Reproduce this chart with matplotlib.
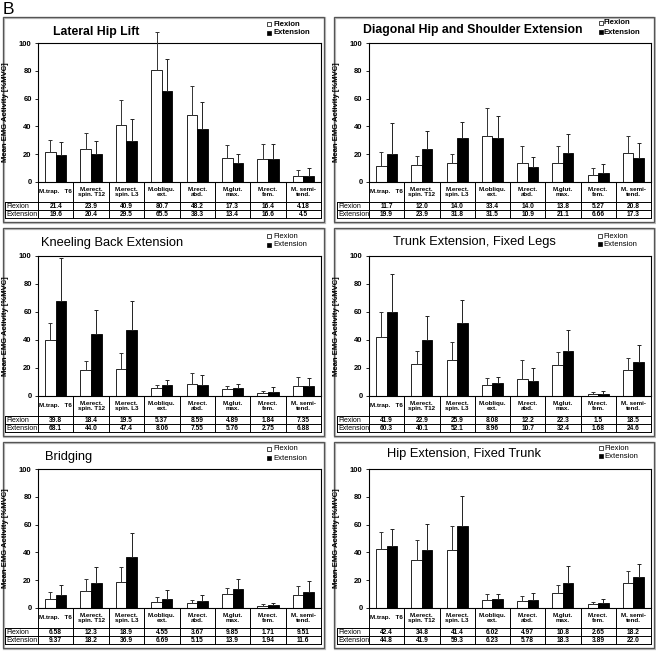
import matplotlib
matplotlib.use('Agg')
import matplotlib.pyplot as plt
from matplotlib.patches import Rectangle
import numpy as np

plt.rcParams['font.family'] = ['Liberation Sans', 'DejaVu Sans']

# ---------------- data ----------------
muscles = ["M.trap.   T6", "M.erect.\nspin. T12", "M.erect.\nspin. L3", "M.obliqu.\next.",
           "M.rect.\nabd.", "M.glut.\nmax.", "M.rect.\nfem.", "M. semi-\ntend."]
series = ["Flexion", "Extension"]
titles = ["Lateral Hip Lift", "Diagonal Hip and Shoulder Extension",
          "Kneeling Back Extension", "Trunk Extension, Fixed Legs",
          "Bridging", "Hip Extension, Fixed Trunk"]
y_label = "Mean EMG Activity [%MVC]"
y_ticks = [0, 20, 40, 60, 80, 100]

lateral_flex = [21.4, 23.9, 40.9, 80.7, 48.2, 17.3, 16.4, 4.18]
lateral_ext = [19.6, 20.4, 29.5, 65.5, 38.3, 13.4, 16.6, 4.5]
lateral_flex_sd = [8.6, 11.1, 18.1, 27.0, 20.8, 9.2, 10.6, 4.3]
lateral_ext_sd = [9.4, 9.1, 15.5, 23.0, 19.2, 6.6, 10.4, 5.5]

diagonal_flex = [11.7, 12.0, 14.0, 33.4, 14.0, 13.8, 5.27, 20.8]
diagonal_ext = [19.9, 23.9, 31.8, 31.5, 10.9, 21.1, 6.66, 17.3]
diagonal_flex_sd = [9.8, 7.0, 6.5, 19.6, 12.0, 12.2, 4.7, 12.2]
diagonal_ext_sd = [22.6, 13.1, 11.2, 16.0, 7.1, 13.4, 6.3, 10.7]

kneeling_flex = [39.8, 18.4, 19.5, 5.37, 8.59, 4.89, 1.84, 7.35]
kneeling_ext = [68.1, 44.0, 47.4, 8.06, 7.55, 5.76, 2.75, 6.88]
kneeling_flex_sd = [12.4, 6.7, 11.1, 2.5, 7.7, 2.5, 2.0, 6.3]
kneeling_ext_sd = [30.7, 17.5, 20.3, 3.1, 7.1, 3.1, 3.5, 5.8]

trunk_flex = [41.9, 22.9, 25.9, 8.08, 12.2, 22.3, 1.5, 18.5]
trunk_ext = [60.3, 40.1, 52.1, 8.96, 10.7, 32.4, 1.68, 24.6]
trunk_flex_sd = [18.4, 9.6, 12.9, 5.1, 13.2, 9.3, 1.4, 8.3]
trunk_ext_sd = [26.8, 17.3, 16.8, 4.9, 9.4, 14.5, 1.6, 11.8]

bridging_flex = [6.58, 12.3, 18.9, 4.55, 3.67, 9.85, 1.71, 9.51]
bridging_ext = [9.37, 18.2, 36.9, 6.69, 5.15, 13.9, 1.94, 11.6]
bridging_flex_sd = [4.7, 8.6, 10.6, 3.2, 2.1, 4.3, 1.4, 6.3]
bridging_ext_sd = [7.1, 11.1, 16.8, 6.5, 4.0, 6.7, 1.5, 8.1]

hip_flex = [42.4, 34.8, 41.4, 6.02, 4.97, 10.8, 2.65, 18.2]
hip_ext = [44.8, 41.9, 59.3, 6.23, 5.78, 18.3, 3.89, 22.0]
hip_flex_sd = [12.1, 13.9, 17.4, 3.9, 3.7, 5.6, 2.0, 8.3]
hip_ext_sd = [11.8, 18.6, 21.4, 3.7, 5.3, 12.1, 2.4, 10.0]

flex_all = [lateral_flex, diagonal_flex, kneeling_flex, trunk_flex, bridging_flex, hip_flex]
ext_all = [lateral_ext, diagonal_ext, kneeling_ext, trunk_ext, bridging_ext, hip_ext]
flex_sd_all = [lateral_flex_sd, diagonal_flex_sd, kneeling_flex_sd, trunk_flex_sd, bridging_flex_sd, hip_flex_sd]
ext_sd_all = [lateral_ext_sd, diagonal_ext_sd, kneeling_ext_sd, trunk_ext_sd, bridging_ext_sd, hip_ext_sd]

# ---------------- layout (pixels) ----------------
W, H = 656, 651
fig = plt.figure(figsize=(W / 100, H / 100), dpi=100)
fig.patch.set_facecolor('white')
over = fig.add_axes([0, 0, 1, 1], zorder=0)
over.set_xlim(0, W)
over.set_ylim(H, 0)
over.axis('off')

cols = [dict(fx0=3, fx1=324, lx0=5, ax0=38, ax1=321),
        dict(fx0=334, fx1=654, lx0=337, ax0=369, ax1=651)]
rows = [dict(ft=17, at=43, ab=182), dict(ft=228, at=256, ab=396), dict(ft=442, at=469, ab=608)]
title_pos = [(53, 32), (363, 30), (41, 243), (393, 242), (45, 457), (387, 454)]
title_bold = [True, True, False, False, False, False]
legend_pos = [(267, 273, 24, 33), (599, 603, 23, 32), (267, 273, 236, 245),
              (598, 603, 236, 244), (267, 273, 449, 458), (599, 604, 448, 456)]
CAT_H, ROW_H = 20, 8


def fmt(v):
    s = f'{v:.3g}'
    if '.' not in s:
        s += '.0'
    return s


over.text(3, 9, 'B', fontsize=12.5, va='center', ha='left')

for i in range(6):
    c = cols[i % 2]
    r = rows[i // 2]
    fb = r['ab'] + CAT_H + 2 * ROW_H + 4
    # panel frame (with shadow)
    over.add_patch(Rectangle((c['fx0'] + 1, r['ft'] + 1), c['fx1'] - c['fx0'], fb - r['ft'],
                             fill=False, edgecolor='#bdbdbd', lw=1.6))
    over.add_patch(Rectangle((c['fx0'], r['ft']), c['fx1'] - c['fx0'], fb - r['ft'],
                             fill=False, edgecolor='#555555', lw=0.9))

    # bar axes
    ax = fig.add_axes([c['ax0'] / W, 1 - r['ab'] / H, (c['ax1'] - c['ax0']) / W,
                       (r['ab'] - r['at']) / H], zorder=2)
    x = np.arange(len(muscles))
    flex = np.array(flex_all[i])
    ext = np.array(ext_all[i])
    ax.bar(x - 0.15, flex, 0.3, color='white', edgecolor='black', lw=0.6, zorder=2)
    ax.bar(x + 0.15, ext, 0.3, color='black', edgecolor='black', lw=0.6, zorder=2)
    zeros = np.zeros(len(x))
    ax.errorbar(x - 0.15, flex, yerr=[zeros, flex_sd_all[i]], fmt='none', ecolor='#333333',
                elinewidth=0.7, capsize=1.6, capthick=0.7, zorder=3, clip_on=False)
    ax.errorbar(x + 0.15, ext, yerr=[zeros, ext_sd_all[i]], fmt='none', ecolor='#222222',
                elinewidth=0.7, capsize=1.6, capthick=0.7, zorder=3, clip_on=False)
    ax.set_xlim(-0.5, len(muscles) - 0.5)
    ax.set_ylim(0, 100)
    ax.set_xticks([])
    ax.set_yticks(y_ticks)
    ax.set_yticklabels([str(t) for t in y_ticks], fontsize=5.5, fontweight='bold')
    ax.tick_params(axis='y', direction='out', length=2.5, width=0.6, pad=2)
    for s in ax.spines.values():
        s.set_linewidth(0.8)
    ax.set_ylabel(y_label, fontsize=5.5, fontweight='bold')
    ax.yaxis.set_label_coords(-29 / (c['ax1'] - c['ax0']), 0.5)

    # title
    tx, ty = title_pos[i]
    over.text(tx, ty, titles[i], fontsize=8.8 if title_bold[i] else 9.3,
              fontweight='bold' if title_bold[i] else 'normal', ha='left', va='center')
    # legend
    sx, lx, y1, y2 = legend_pos[i]
    lw_ = 'bold' if title_bold[i] else 'normal'
    over.add_patch(Rectangle((sx, y1 - 2), 4, 4, facecolor='white', edgecolor='black', lw=0.5))
    over.add_patch(Rectangle((sx, y2 - 2), 4, 4, facecolor='black', edgecolor='black', lw=0.5))
    over.text(lx, y1, series[0], fontsize=5.5, fontweight=lw_, va='center', ha='left')
    over.text(lx, y2, series[1], fontsize=5.5, fontweight=lw_, va='center', ha='left')

    # table
    cw = (c['ax1'] - c['ax0']) / len(muscles)
    y0 = r['ab']
    y1t = y0 + CAT_H
    y2t = y1t + ROW_H
    y3t = y2t + ROW_H
    lk = dict(color='black', lw=0.7)
    for k in range(len(muscles) + 1):
        xx = c['ax0'] + k * cw
        over.plot([xx, xx], [y0, y3t], **lk)
    over.plot([c['lx0'], c['lx0']], [y1t, y3t], **lk)
    for yy in (y1t, y2t, y3t):
        over.plot([c['lx0'], c['ax1']], [yy, yy], **lk)
    for k, m in enumerate(muscles):
        cx = c['ax0'] + (k + 0.5) * cw
        over.text(cx, (y0 + y1t) / 2, m, fontsize=4.5, fontweight='bold', ha='center',
                  va='center', linespacing=1.15)
        over.text(cx, (y1t + y2t) / 2 + 0.3, fmt(flex_all[i][k]), fontsize=4.8,
                  fontweight='bold', ha='center', va='center')
        over.text(cx, (y2t + y3t) / 2 + 0.3, fmt(ext_all[i][k]), fontsize=4.8,
                  fontweight='bold', ha='center', va='center')
    over.text(c['lx0'] + 1.5, (y1t + y2t) / 2 + 0.3, series[0], fontsize=5, ha='left', va='center')
    over.text(c['lx0'] + 1.5, (y2t + y3t) / 2 + 0.3, series[1], fontsize=5, ha='left', va='center')

fig.savefig('out.png', dpi=100, facecolor='white')
